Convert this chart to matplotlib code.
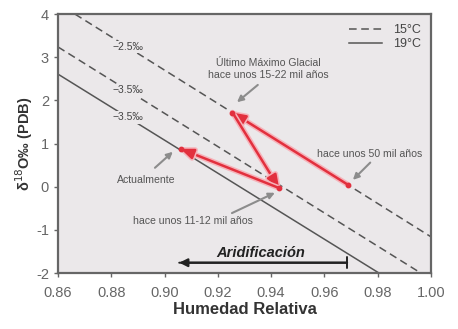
import matplotlib
matplotlib.use('Agg')
import matplotlib.pyplot as plt
import matplotlib.patheffects as pe
import numpy as np

plt.rcParams['font.family'] = ['Liberation Sans', 'DejaVu Sans']
plt.rcParams['axes.unicode_minus'] = False

# isolíneas (humedad relativa, delta18O)
hr_25_15 = [0.8664, 1.00]
d18o_25_15 = [4.0, -1.16]
hr_35_15 = [0.86, 0.9962]
d18o_35_15 = [3.24, -2.0]
hr_35_19 = [0.86, 0.9805]
d18o_35_19 = [2.61, -2.0]

line_labels = ['\u22122.5\u2030', '\u22123.5\u2030', '\u22123.5\u2030']
label_hr = 0.8862

# puntos: 50 mil, UMG, 11-12 mil, actual
hr_pts = [0.969, 0.9255, 0.943, 0.906]
d18o_pts = [0.04, 1.72, -0.03, 0.88]

# textos de anotación y flechas grises (cola -> punta)
notes = ['Último Máximo Glacial\nhace unos 15-22 mil años', 'hace unos 50 mil años',
         'Actualmente', 'hace unos 11-12 mil años']
note_x = [0.9388, 0.9771, 0.893, 0.9107]
note_y = [2.72, 0.76, 0.157, -0.79]
tail_x = [0.935, 0.9772, 0.8964, 0.9253]
tail_y = [2.36, 0.56, 0.44, -0.61]
tip_x = [0.9272, 0.9707, 0.9031, 0.9414]
tip_y = [1.96, 0.16, 0.81, -0.14]

# flecha de aridificación
arid_x = [0.9685, 0.9055]
arid_y = -1.76

xticks = [0.86, 0.88, 0.90, 0.92, 0.94, 0.96, 0.98, 1.00]
yticks = [-2, -1, 0, 1, 2, 3, 4]

fig = plt.figure(figsize=(4.58, 3.29), dpi=100)
ax = fig.add_axes([0.1266, 0.170, 0.8144, 0.787])
ax.set_facecolor('#ebe8ea')

lc = '#555555'
ax.plot(hr_25_15, d18o_25_15, ls=(0, (5, 3)), color=lc, lw=1.1, label='15°C')
ax.plot(hr_35_15, d18o_35_15, ls=(0, (5, 3)), color=lc, lw=1.1)
ax.plot(hr_35_19, d18o_35_19, ls='-', color=lc, lw=1.1, label='19°C')

lines = [(hr_25_15, d18o_25_15), (hr_35_15, d18o_35_15), (hr_35_19, d18o_35_19)]
for t, (lx, ly) in zip(line_labels, lines):
    y = np.interp(label_hr, lx, ly)
    ax.text(label_hr, y, t, fontsize=7.5, color='#444444', ha='center', va='center',
            bbox=dict(facecolor='#ebe8ea', edgecolor='none', pad=0.8))

# trayectoria en rojo
red = '#e2303e'
halo = [pe.Stroke(linewidth=4, foreground='#f6b3ba'), pe.Normal()]
for i in range(len(hr_pts) - 1):
    ax.annotate('', xy=(hr_pts[i + 1], d18o_pts[i + 1]), xytext=(hr_pts[i], d18o_pts[i]),
                arrowprops=dict(arrowstyle='-|>,head_length=0.55,head_width=0.22', color=red,
                                lw=1.8, mutation_scale=14,
                                shrinkA=0, shrinkB=0, path_effects=halo))
ax.scatter(hr_pts, d18o_pts, s=10, color=red, zorder=5)

# anotaciones
tc = '#555555'
for i in range(len(notes)):
    ax.text(note_x[i], note_y[i], notes[i], fontsize=7.6, color=tc, ha='center',
            va='center', linespacing=1.25)
    ax.annotate('', xy=(tip_x[i], tip_y[i]), xytext=(tail_x[i], tail_y[i]),
                arrowprops=dict(arrowstyle='-|>', color='#8c8c8c', lw=1.5,
                                mutation_scale=9, shrinkA=0, shrinkB=0))

# aridificación
ax.annotate('', xy=(arid_x[1], arid_y), xytext=(arid_x[0], arid_y),
            arrowprops=dict(arrowstyle='-|>', color='#222222', lw=1.6,
                            mutation_scale=12, shrinkA=0, shrinkB=0))
ax.annotate('', xy=(arid_x[1], arid_y), xytext=(arid_x[0], arid_y),
            arrowprops=dict(arrowstyle=']-, widthA=0.4, lengthA=0', color='#222222', lw=1.4,
                            shrinkA=0, shrinkB=0))
ax.text(sum(arid_x) / 2 - 0.001, -1.53, 'Aridificación', fontsize=10.5, fontweight='bold',
        style='italic', color='#222222', ha='center', va='center')

ax.set_xlim(0.86, 1.00)
ax.set_ylim(-2, 4)
ax.set_xticks(xticks)
ax.set_xticklabels(['%.2f' % v for v in xticks])
ax.set_yticks(yticks)
ax.tick_params(labelsize=10.5, labelcolor='#666666', color='#666666', length=3, width=1)
ax.tick_params(axis='x', pad=6.5)
for s in ax.spines.values():
    s.set_color('#666666')
    s.set_linewidth(1.6)

ax.set_xlabel('Humedad Relativa', fontsize=12, fontweight='bold', color='#333333', labelpad=1)
ax.set_ylabel('δ$^{18}$O‰ (PDB)', fontsize=10.5, fontweight='bold', color='#333333', labelpad=1)

leg = ax.legend(loc='upper right', frameon=False, fontsize=9, handlelength=2.6,
                labelcolor='#444444', borderaxespad=0.4, labelspacing=0.15,
                handletextpad=0.9)

fig.savefig('out.png', dpi=100)
